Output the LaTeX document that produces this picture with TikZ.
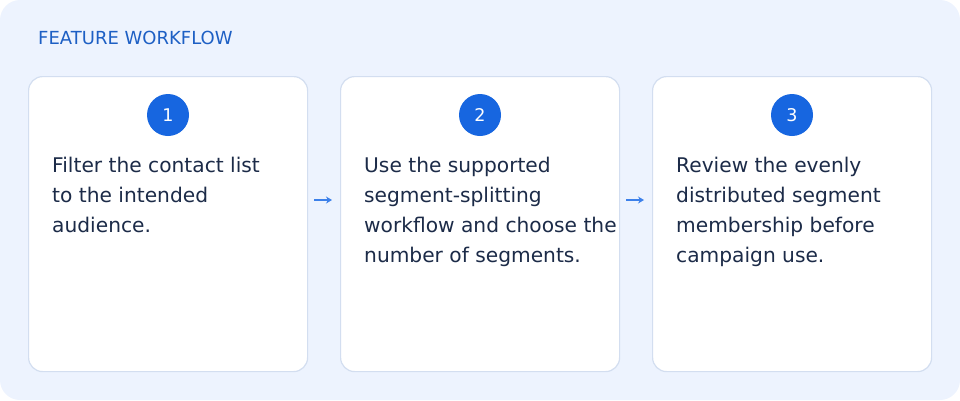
\documentclass[tikz,border=0pt]{standalone}
\usepackage{fontspec}
\setmainfont{DejaVu Sans}
\usetikzlibrary{positioning,arrows.meta}
\definecolor{panelbg}{HTML}{EDF3FE}
\definecolor{cardline}{HTML}{D3DEF0}
\definecolor{stepblue}{HTML}{1766E0}
\definecolor{arrowblue}{HTML}{3C80EA}
\definecolor{titleblue}{HTML}{1D5FC4}
\definecolor{bodyink}{HTML}{1C2B48}
\begin{document}
\begin{tikzpicture}[x=1pt,y=-1pt,
  card/.style={draw=cardline,line width=1.2pt,fill=white,rounded corners=14pt,
    minimum width=279pt,minimum height=295pt,anchor=north west},
  stepnum/.style={circle,fill=stepblue,text=white,minimum size=42pt,inner sep=0pt,font=\fontsize{17.5}{17.5}\selectfont},
  body/.style={anchor=north west,align=left,text=bodyink,inner sep=0pt,
    font=\fontsize{20.2}{30}\selectfont},
  flow/.style={-{Stealth[length=6pt,width=7pt]},arrowblue,line width=1.3pt}]
  \fill[panelbg,rounded corners=20pt] (0,0) rectangle (960,400);
  \useasboundingbox (0,0) rectangle (960,400);
  \node[anchor=west,text=titleblue,inner sep=0pt,font=\fontsize{18}{18}\selectfont] (title) at (38,38) {FEATURE WORKFLOW};
  % cards
  \node[card] (c1) at (28,76) {};
  \node[card] (c2) at (340,76) {};
  \node[card] (c3) at (652,76) {};
  \node[stepnum] (s1) at (168,115) {1};
  \node[stepnum] (s2) at (480,115) {2};
  \node[stepnum] (s3) at (792,115) {3};
  \node[body] (t1) at (52,157) {Filter the contact list\\to the intended\\audience.};
  \node[body] (t2) at (364,157) {Use the supported\\segment-splitting\\workflow and choose the\\number of segments.};
  \node[body] (t3) at (676,157) {Review the evenly\\distributed segment\\membership before\\campaign use.};
  % arrows
  \coordinate (a1) at (314,200);
  \coordinate (b1) at (332,200);
  \coordinate (a2) at (626,200);
  \coordinate (b2) at (644,200);
  \draw[flow] (a1) -- (b1);
  \draw[flow] (a2) -- (b2);
\end{tikzpicture}
\end{document}
